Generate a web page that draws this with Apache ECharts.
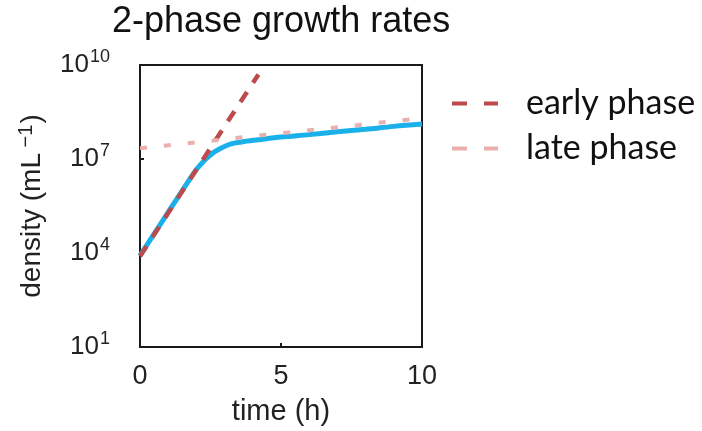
<!DOCTYPE html>
<html>
<head>
<meta charset="utf-8">
<script src="https://cdn.jsdelivr.net/npm/echarts@6/dist/echarts.min.js"></script>
<style>
  html, body { margin: 0; padding: 0; background: #fff; }
  #chart { width: 702px; height: 431px; }
</style>
</head>
<body>
<div id="chart"></div>
<script>
// Model curve: density over time (cells per mL)
const modelTime = [0, 0.5, 1, 1.5, 2, 2.3, 2.6, 2.9, 3.2, 3.6, 4.2, 5, 6, 7, 8, 9, 10];
const modelDensity = [8.3e3, 4.1e4, 2.0e5, 9.8e5, 4.6e6, 9.3e6, 1.6e7, 2.3e7, 3.0e7, 3.5e7,
                      4.1e7, 5.0e7, 6.0e7, 7.4e7, 8.9e7, 1.1e8, 1.3e8];

// Exponential fits for each growth phase (straight lines on the log axis)
const earlyTime = [0, 4.2];
const earlyDensity = [7.9e3, 5.0e9];
const lateTime = [0, 10];
const lateDensity = [2.2e7, 2.0e8];

// Axis ticks
const timeTicks = [0, 5, 10];
const densityExponents = [1, 4, 7, 10];

const seriesNames = ['early phase', 'late phase'];

const pairs = (xs, ys) => xs.map((x, i) => [x, ys[i]]);

const chart = echarts.init(document.getElementById('chart'), null, { renderer: 'canvas' });

const axisFont = 'Liberation Sans, Arial, Helvetica, sans-serif';
const textColor = '#222';
// Legend key: two short dashes
const dashIcon = 'path://M0,5 L15,5 L15,9 L0,9 Z M32,5 L46,5 L46,9 L32,9 Z';

chart.setOption({
  animation: false,
  backgroundColor: '#fff',
  title: {
    text: '2-phase growth rates',
    left: 107,
    top: -1,
    textStyle: { fontFamily: axisFont, fontSize: 36, fontWeight: 'normal', color: '#111' }
  },
  grid: {
    left: 140, right: 280, top: 65, bottom: 84,
    show: true, borderColor: '#1a1a1a', borderWidth: 2, backgroundColor: '#fff'
  },
  legend: {
    orient: 'vertical',
    left: 447,
    top: 79,
    itemWidth: 46,
    itemHeight: 14,
    itemGap: 6,
    icon: dashIcon,
    data: [
      { name: seriesNames[0] },
      { name: seriesNames[1] }
    ],
    textStyle: {
      fontFamily: 'Lato, "Open Sans", sans-serif',
      fontSize: 34,
      lineHeight: 39,
      color: '#111',
      padding: [0, 0, 0, 23]
    }
  },
  xAxis: {
    type: 'value',
    min: timeTicks[0],
    max: timeTicks[timeTicks.length - 1],
    interval: timeTicks[1] - timeTicks[0],
    name: 'time (h)',
    nameLocation: 'middle',
    nameGap: 50,
    nameTextStyle: { fontFamily: axisFont, fontSize: 29, color: textColor },
    axisLine: { lineStyle: { color: '#1a1a1a', width: 2 } },
    axisTick: { inside: true, length: 4, lineStyle: { color: '#1a1a1a', width: 2 } },
    axisLabel: { fontFamily: axisFont, fontSize: 27, color: textColor, margin: 16 },
    splitLine: { show: false }
  },
  yAxis: {
    type: 'log',
    logBase: 10,
    min: Math.pow(10, densityExponents[0]),
    max: Math.pow(10, densityExponents[densityExponents.length - 1]),
    interval: densityExponents[1] - densityExponents[0],
    name: '{n|density (mL}{s| −1}{n|)}',
    nameLocation: 'middle',
    nameGap: 92,
    nameTextStyle: {
      rich: {
        n: { fontFamily: axisFont, fontSize: 28, color: textColor },
        s: { fontFamily: axisFont, fontSize: 20, color: textColor, verticalAlign: 'top', padding: [0, 1, 12, 0] }
      }
    },
    axisLine: { lineStyle: { color: '#1a1a1a', width: 2 } },
    axisTick: { inside: true, length: 4, lineStyle: { color: '#1a1a1a', width: 2 } },
    axisLabel: {
      margin: 30,
      formatter: v => '{b|10}{e|' + Math.round(Math.log10(v)) + '}',
      rich: {
        b: { fontFamily: axisFont, fontSize: 26, color: textColor, lineHeight: 27 },
        e: { fontFamily: axisFont, fontSize: 18, color: textColor, verticalAlign: 'top', padding: [0, 0, 16, 1] }
      }
    },
    splitLine: { show: false }
  },
  series: [
    {
      name: 'model',
      type: 'line',
      data: pairs(modelTime, modelDensity),
      showSymbol: false,
      smooth: 0.35,
      lineStyle: { color: '#1ab0ea', width: 5 },
      z: 2
    },
    {
      name: seriesNames[0],
      type: 'line',
      data: pairs(earlyTime, earlyDensity),
      showSymbol: false,
      itemStyle: { color: '#bd4b4b' },
      lineStyle: { color: '#bd4b4b', width: 4.5, type: [12, 11] },
      z: 3
    },
    {
      name: seriesNames[1],
      type: 'line',
      data: pairs(lateTime, lateDensity),
      showSymbol: false,
      itemStyle: { color: '#eab0b0' },
      lineStyle: { color: '#eab0b0', width: 4, type: [7, 17] },
      z: 3
    }
  ]
});
</script>
</body>
</html>
